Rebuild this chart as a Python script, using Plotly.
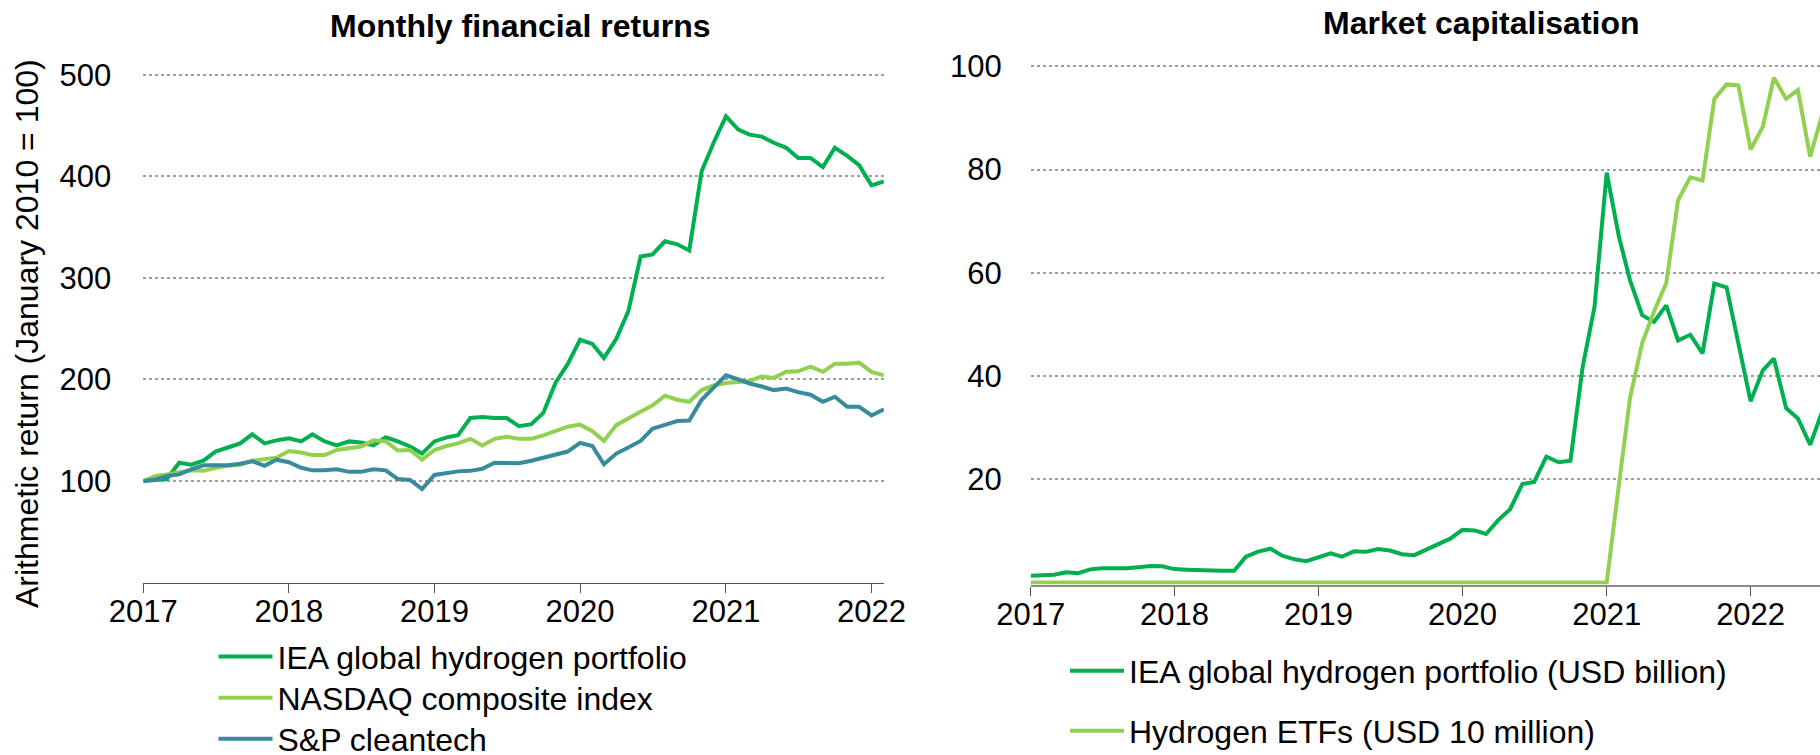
import pandas as pd
import plotly.graph_objects as go

W, H = 1820, 755
FONT = "Liberation Sans, Arial, sans-serif"

# Monthly observations, January 2017 onwards
months = pd.date_range("2017-01-01", periods=67, freq="MS")

# Monthly financial returns (January 2010 = 100), Jan 2017 - Feb 2022
iea_portfolio_return = [
    100, 101, 102, 118, 116, 120, 129, 133, 137, 146, 137, 140,
    142, 139, 146, 139, 135, 139, 138, 135, 143, 139, 134, 127,
    139, 143, 145, 162, 163, 162, 162, 154, 156, 167, 197, 215,
    239, 235, 221, 240, 267, 321, 323, 336, 333, 327, 405, 433,
    459, 446, 441, 439, 433, 428, 418, 418, 409, 428, 420, 411,
    391, 395,
]
nasdaq_return = [
    100, 105, 106.5, 109, 110.5, 110, 113, 115, 116, 120, 122, 123,
    129.5, 128, 125.5, 125.5, 130.5, 132, 134, 140, 139, 130, 130.5, 121,
    130.5, 134.5, 137, 141.5, 135, 141.5, 143.5, 141.5, 141.5, 145, 149, 153.5,
    155.5, 149, 139.5, 155, 161.5, 168, 174.5, 184, 180, 178, 189.5, 194,
    196.5, 197.5, 198.5, 203, 201.5, 207.5, 208, 212.5, 207.5, 215.5, 215.5, 216.5,
    207.5, 204,
]
sp_cleantech_return = [
    100, 101.5, 105, 106.5, 111.5, 115.5, 115.5, 115.5, 117, 119.5, 115, 121,
    118.5, 113, 110.5, 110.5, 111.5, 109, 109, 111.5, 110.5, 102, 101, 92,
    106, 108, 109.5, 110, 112, 118, 117.5, 117.5, 120, 123, 127, 129,
    137.5, 134.5, 116.5, 127, 133, 139.5, 151.5, 155.5, 159, 159.5, 180, 192,
    204, 200, 196, 193, 189.5, 191, 187.5, 185, 178, 183, 173, 173,
    164.5, 170.5,
]

# Market capitalisation, Jan 2017 - Jul 2022
iea_portfolio_cap = [
    1.3, 1.4, 1.5, 2.0, 1.8, 2.55, 2.75, 2.75, 2.75, 2.95, 3.2, 3.15,
    2.6, 2.5, 2.4, 2.35, 2.3, 2.3, 5.0, 6.0, 6.55, 5.2, 4.5, 4.15,
    4.9, 5.65, 5.0, 6.05, 5.95, 6.5, 6.2, 5.5, 5.3, 6.3, 7.45, 8.5,
    10.2, 10.1, 9.4, 12.1, 14.2, 19.1, 19.5, 24.4, 23.3, 23.6, 41.8, 53.4,
    79.4, 67, 58.6, 51.8, 50.5, 53.7, 46.9, 48, 44.4, 57.9, 57.2, 46,
    35.1, 41.1, 43.4, 33.8, 31.8, 26.7, 33,
]
hydrogen_etf_cap = [0] * 49 + [
    19, 35.7, 46.4, 52.5, 58, 74.1, 78.5, 77.9, 93.7, 96.5, 96.3,
    83.9, 88.3, 97.8, 93.7, 95.4, 82.5, 90.5,
]

returns_ticks = [100, 200, 300, 400, 500]
cap_ticks = [20, 40, 60, 80, 100]

DARK_GREEN = "#00b050"
LIGHT_GREEN = "#92d050"
TEAL = "#378b9c"
GRID = "#9f9f9f"


def fx(p):
    return p / W


def fy(p):
    return 1 - p / H


fig = go.Figure()

# (values, name, colour, axis pair, legend id)
series = [
    (iea_portfolio_return, "IEA global hydrogen portfolio", DARK_GREEN, ("x", "y"), "legend"),
    (nasdaq_return, "NASDAQ composite index", LIGHT_GREEN, ("x", "y"), "legend2"),
    (sp_cleantech_return, "S&P cleantech", TEAL, ("x", "y"), "legend3"),
    (iea_portfolio_cap, "IEA global hydrogen portfolio (USD billion)", DARK_GREEN, ("x2", "y2"), "legend4"),
    (hydrogen_etf_cap, "Hydrogen ETFs (USD 10 million)", LIGHT_GREEN, ("x2", "y2"), "legend5"),
]
for values, name, colour, (xa, ya), leg in series:
    fig.add_trace(go.Scatter(x=months[:len(values)], y=values, mode="lines",
                             name=name, line=dict(color=colour, width=4),
                             xaxis=xa, yaxis=ya, legend=leg))

xaxis_common = dict(
    type="date", dtick="M12", tick0="2017-01-01", tickformat="%Y",
    showgrid=False, zeroline=False, showline=True, automargin=False,
    ticks="outside", ticklen=9, tickwidth=1, ticklabelstandoff=-8,
    tickfont=dict(family=FONT, size=31, color="#000"),
    layer="below traces",
)
yaxis_common = dict(
    showgrid=True, gridcolor=GRID, gridwidth=2, griddash="dot",
    zeroline=False, showline=False, ticks="", automargin=False,
    tickfont=dict(family=FONT, size=31, color="#000"),
)


def legend_at(x_px, y_px):
    return dict(x=fx(x_px), y=fy(y_px), xanchor="left", yanchor="middle",
                font=dict(family=FONT, size=32, color="#000"),
                itemwidth=54, bgcolor="rgba(0,0,0,0)")


fig.update_layout(
    template="none",
    width=W, height=H,
    margin=dict(l=0, r=0, t=0, b=0, autoexpand=False),
    paper_bgcolor="white", plot_bgcolor="white",
    font=dict(family=FONT, size=32, color="#000"),
    xaxis=dict(**xaxis_common, domain=[fx(143.3), fx(883.9)],
               range=["2017-01-01", "2022-02-01"], anchor="y",
               linecolor="#555", linewidth=1, tickcolor="#555"),
    yaxis=dict(**yaxis_common, domain=[fy(582.6), fy(69.6)],
               range=[0, 505], tickvals=returns_ticks, anchor="x",
               ticklabelstandoff=31),
    xaxis2=dict(**xaxis_common, domain=[fx(1030.7), 1.0],
                range=["2017-01-01", "2022-06-26"], anchor="y2",
                linecolor="#8a8a8a", linewidth=2, tickcolor="#555"),
    yaxis2=dict(**yaxis_common, domain=[fy(584.5), fy(61.2)],
                range=[-0.38, 101], tickvals=cap_ticks, anchor="x2",
                ticklabelstandoff=28),
    legend=legend_at(213.5, 656.7),
    legend2=legend_at(213.5, 698),
    legend3=legend_at(213.5, 739),
    legend4=legend_at(1065, 671),
    legend5=legend_at(1065, 731),
    showlegend=True,
)

annotations = [
    dict(text="<b>Monthly financial returns</b>", x=fx(520), y=fy(26),
         font=dict(size=32)),
    dict(text="<b>Market capitalisation</b>", x=fx(1481), y=fy(22.5),
         font=dict(size=32)),
    dict(text="Arithmetic return (January 2010 = 100)", x=fx(27), y=fy(334),
         textangle=-90, font=dict(size=32)),
]
for a in annotations:
    fig.add_annotation(xref="paper", yref="paper", showarrow=False,
                       xanchor="center", yanchor="middle", **a)

fig.write_html("out.html")
